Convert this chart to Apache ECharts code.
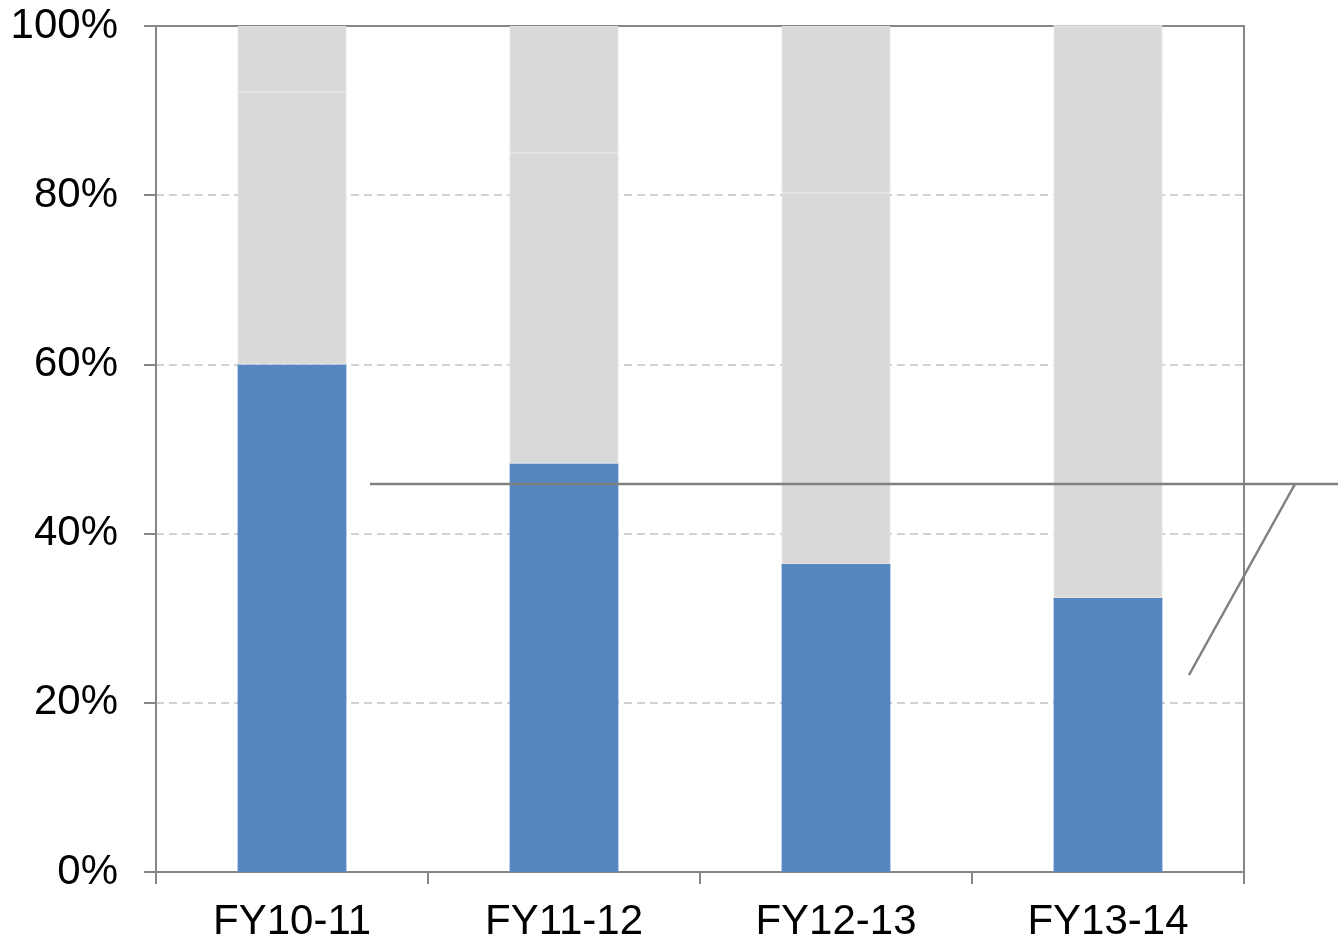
<!DOCTYPE html>
<html>
<head>
<meta charset="utf-8">
<script src="https://cdn.jsdelivr.net/npm/echarts@6/dist/echarts.min.js"></script>
<style>
  html, body { margin: 0; padding: 0; background: #fff; }
  #main { width: 1338px; height: 942px; }
</style>
</head>
<body>
<div id="main"></div>
<script>
var categories = ['FY10-11', 'FY11-12', 'FY12-13', 'FY13-14'];
// blue share at the bottom of each column (%)
var blueShare = [60.0, 48.3, 36.4, 32.4];
// grey segments stacked above it (%)
var greyLower = [32.2, 36.7, 43.9, 67.6];
var greyUpper = [7.8, 15.0, 19.7, 0];
var yTicks = [0, 20, 40, 60, 80, 100];

var axisGrey = '#868686';
var labelFont = { color: '#000', fontSize: 42, fontFamily: 'Liberation Sans, Arial, sans-serif' };

var myChart = echarts.init(document.getElementById('main'));
var option = {
    animation: false,
    grid: {
        left: 156,
        right: 94,
        top: 26,
        bottom: 70,
        outerBoundsMode: 'none',
        containLabel: false
    },
    xAxis: [{
        type: 'category',
        data: categories,
        axisLine: { show: true, lineStyle: { color: axisGrey, width: 2 } },
        axisTick: { show: true, length: 12, lineStyle: { color: axisGrey, width: 2 } },
        axisLabel: Object.assign({ margin: 29 }, labelFont),
        splitLine: { show: false }
    }, {
        // top border
        type: 'category',
        position: 'top',
        data: categories,
        axisLine: { show: true, onZero: false, lineStyle: { color: axisGrey, width: 2 } },
        axisTick: { show: false },
        axisLabel: { show: false }
    }],
    yAxis: [{
        type: 'value',
        min: 0,
        max: 100,
        interval: 20,
        axisLine: { show: true, lineStyle: { color: axisGrey, width: 2 } },
        axisTick: { show: true, length: 12, lineStyle: { color: axisGrey, width: 2 } },
        axisLabel: Object.assign({
            margin: 38,
            padding: [6, 0, 0, 0],
            formatter: function (v) { return yTicks.indexOf(v) >= 0 ? v + '%' : ''; }
        }, labelFont),
        splitLine: {
            show: true,
            lineStyle: { color: '#c4c4c4', type: [8, 5], width: 1.5 }
        }
    }, {
        // right border
        type: 'value',
        position: 'right',
        min: 0,
        max: 100,
        interval: 20,
        axisLine: { show: true, onZero: false, lineStyle: { color: axisGrey, width: 2 } },
        axisTick: { show: false },
        axisLabel: { show: false },
        splitLine: { show: false }
    }],
    series: [
        {
            name: 'share',
            type: 'bar',
            stack: 'total',
            barWidth: '40%',
            data: blueShare,
            itemStyle: { color: '#5586bf' }
        },
        {
            name: 'grey lower',
            type: 'bar',
            stack: 'total',
            data: greyLower,
            itemStyle: { color: '#d9d9d9', borderColor: '#e3e3e3', borderWidth: 1 }
        },
        {
            name: 'grey upper',
            type: 'bar',
            stack: 'total',
            data: greyUpper,
            itemStyle: { color: '#d9d9d9', borderColor: '#e3e3e3', borderWidth: 1 }
        }
    ],
    graphic: [
        {
            type: 'line',
            z: 100,
            shape: { x1: 370, y1: 484, x2: 1338, y2: 484 },
            style: { stroke: '#808080', lineWidth: 2.5 }
        },
        {
            type: 'line',
            z: 100,
            shape: { x1: 1295, y1: 484, x2: 1189, y2: 675 },
            style: { stroke: '#808080', lineWidth: 2.5 }
        }
    ]
};
myChart.setOption(option);
</script>
</body>
</html>
